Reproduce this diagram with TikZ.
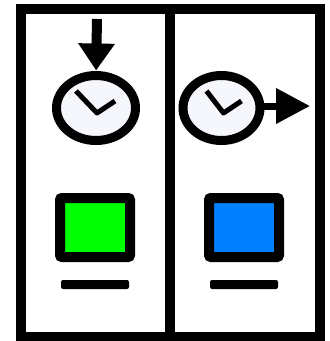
\documentclass[tikz,border=0pt]{standalone}
\usepackage{xcolor}
\usetikzlibrary{positioning,arrows.meta,shapes.geometric}
\definecolor{faceTint}{rgb}{0.96,0.97,0.99}
\definecolor{swatchGreen}{rgb}{0,1,0}
\definecolor{swatchBlue}{rgb}{0,0.5,1}
\begin{document}
\begin{tikzpicture}[
  x=1pt,y=-1pt,
  panel/.style={draw,line width=10pt,outer sep=0pt,minimum width=149.5pt,minimum height=328.5pt,inner sep=0pt},
  clockface/.style={draw,ellipse,line width=9pt,fill=faceTint,outer sep=0pt,inner sep=0pt,minimum width=77pt,minimum height=65pt},
  swatch/.style={draw,rounded corners=2pt,line width=10pt,outer sep=0pt,inner sep=0pt,minimum width=70pt,minimum height=59pt},
  dashbar/.style={fill=black,rounded corners=2pt,outer sep=0pt,inner sep=0pt,minimum width=68pt,minimum height=9pt},
  hand/.style={line width=5pt,line join=round},
  arr/.style={-{Triangle[length=27pt,width=35pt]},line width=10pt}
]
\useasboundingbox (0,0) rectangle (330,341);
\node[panel] (panelL) at (95.5,173) {};
\node[panel,right=0pt of panelL] (panelR) {};

\node[clockface,minimum width=79pt] (clockL) at (96,108) {};
\node[clockface] (clockR) at (221.5,108) {};
\node[swatch,fill=swatchGreen,below=57.5pt of clockL,xshift=-1pt] (swatchL) {};
\node[swatch,fill=swatchBlue,right=79pt of swatchL] (swatchR) {};
\node[dashbar,below=23pt of swatchL] (barL) {};
\node[dashbar,below=23pt of swatchR] (barR) {};

\coordinate (startL) at (97,19);
\coordinate (tipR) at (310,106);
\draw[arr,shorten >=5pt] (startL) -- (clockL.north);
\draw[-{Triangle[length=34pt,width=34pt]},line width=7pt] (clockR.east |- tipR) -- (tipR);

\draw[hand] ([shift={(-20,-17)}]clockL.center) -- ([shift={(1,5)}]clockL.center) -- ([shift={(19,-7)}]clockL.center);
\draw[hand] ([shift={(-15,-17)}]clockR.center) -- ([shift={(2,5)}]clockR.center) -- ([shift={(20,-7)}]clockR.center);
\end{tikzpicture}
\end{document}
